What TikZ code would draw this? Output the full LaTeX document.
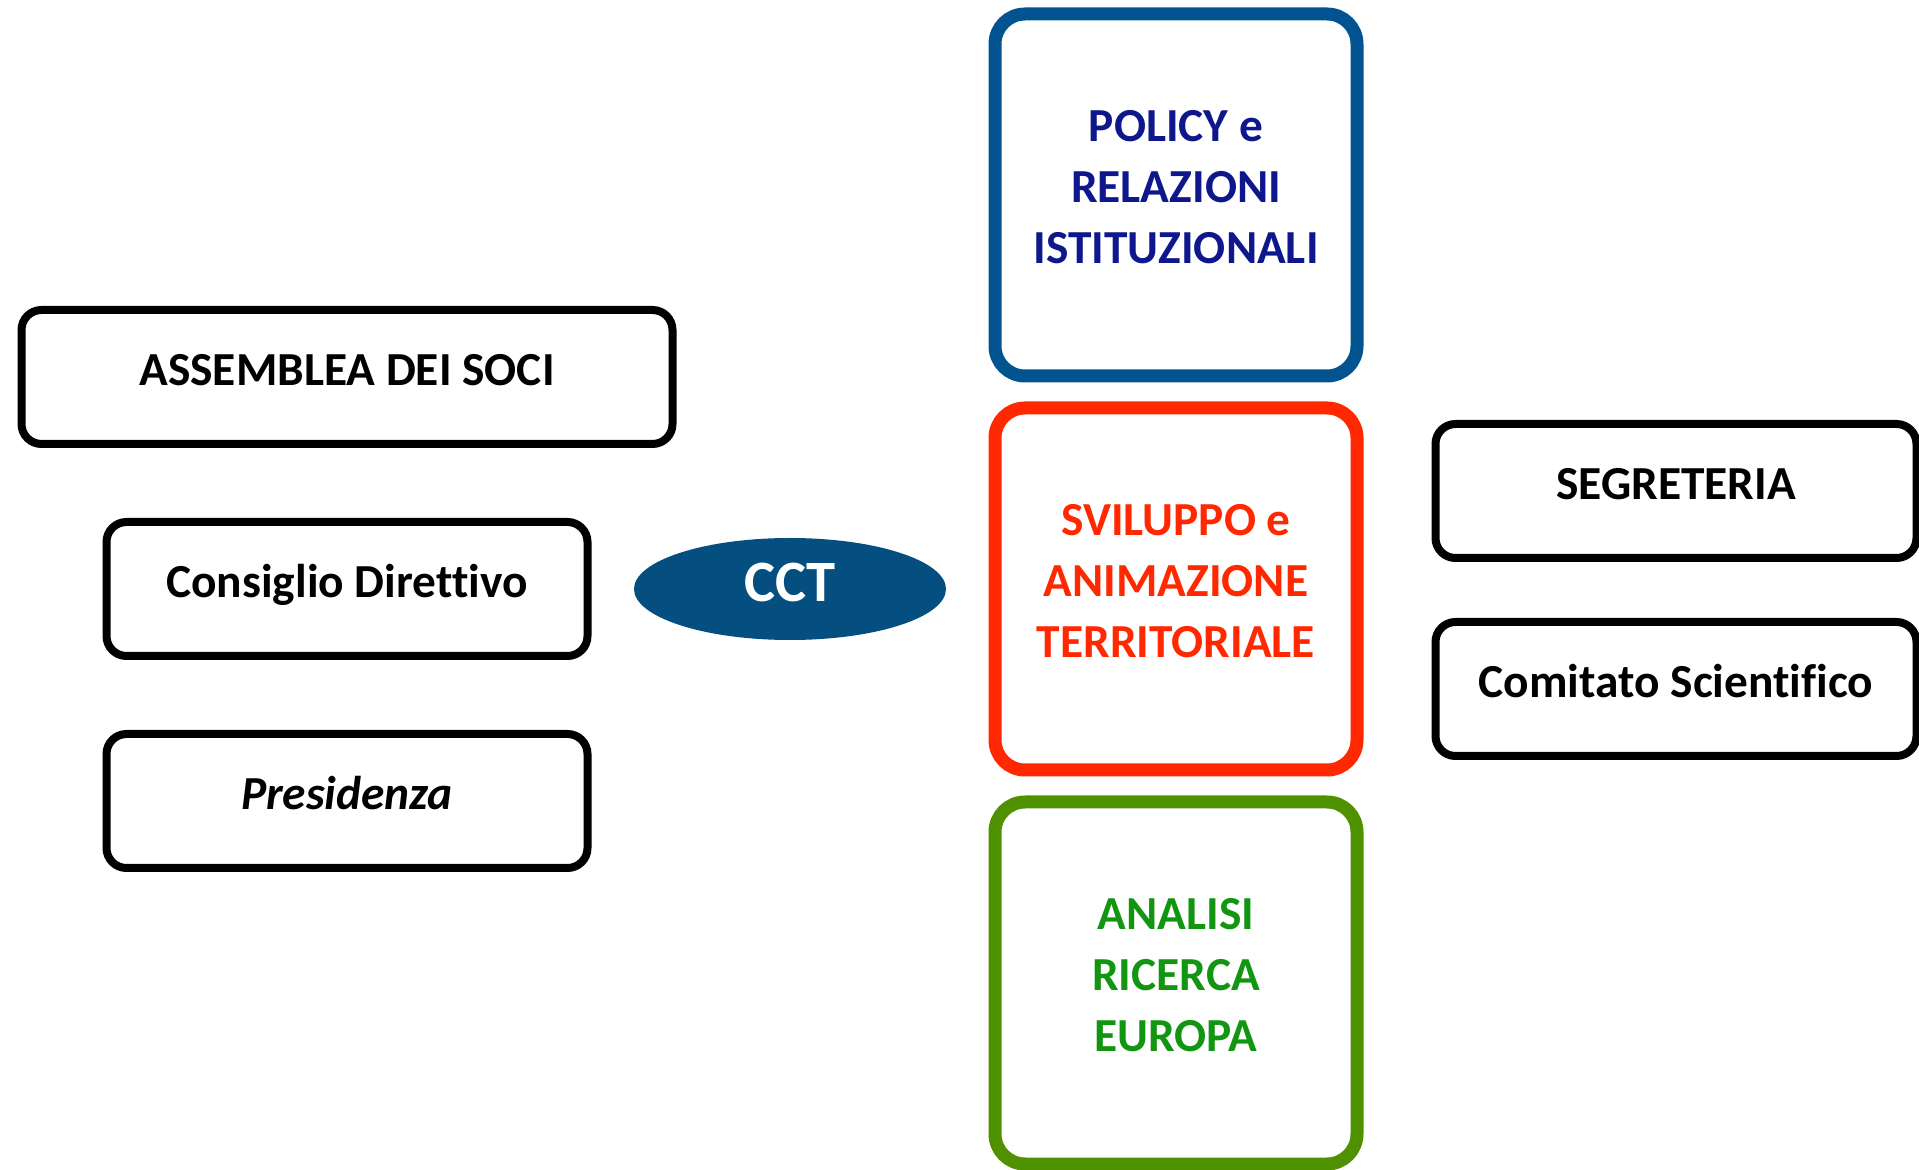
\documentclass[tikz,border=0pt]{standalone}
\usepackage{fontspec}
\setmainfont[Ligatures=CommonOff]{Carlito}
\usetikzlibrary{positioning,shapes.geometric}

\definecolor{policyline}{RGB}{2,84,144}
\definecolor{policytext}{RGB}{14,24,140}
\definecolor{sviluppored}{RGB}{255,40,0}
\definecolor{analisiline}{RGB}{80,145,0}
\definecolor{analisitext}{RGB}{18,150,18}
\definecolor{cctfill}{RGB}{4,78,128}

\tikzset{
  ente/.style={draw=black,line width=4pt,rounded corners=10pt,
    minimum width=240.5pt,minimum height=67pt,inner sep=0pt,
    font=\fontsize{23.7}{30.5}\selectfont\bfseries,
    text height=15pt,text depth=6pt},
  area/.style={draw=#1,line width=6.5pt,rounded corners=15pt,
    minimum width=181pt,minimum height=181pt,inner sep=0pt,align=center,
    font=\fontsize{23.7}{30.5}\selectfont\bfseries,
    text height=75.5pt,text depth=7pt}
}

\begin{document}
\begin{tikzpicture}[x=0.5pt,y=-0.5pt,on grid,node distance=197pt]
  \useasboundingbox (0,0) rectangle (1919,1170);
  \path
  node[area=policyline,text=policytext] (policy) at (1176,195)
    {POLICY e\\RELAZIONI\\ISTITUZIONALI}
  node[area=sviluppored,text=sviluppored,below=of policy] (sviluppo)
    {SVILUPPO e\\ANIMAZIONE\\TERRITORIALE}
  node[area=analisiline,text=analisitext,below=of sviluppo] (analisi)
    {ANALISI\\RICERCA\\EUROPA}

  node[ente,minimum width=325.5pt] (assemblea) at (347,377) {ASSEMBLEA DEI SOCI}
  node[ente,below=106pt of assemblea] (consiglio) {Consiglio Direttivo}
  node[ente,below=106pt of consiglio] (presidenza) {\itshape Presidenza}

  node[ellipse,fill=cctfill,text=white,minimum width=156pt,minimum height=51pt,
    inner sep=0pt,font=\fontsize{29.3}{35}\selectfont\bfseries,
    text height=18.5pt,text depth=6pt,right=221.5pt of consiglio] (cct) {CCT}

  node[ente] (segreteria) at (1676,491) {SEGRETERIA}
  node[ente,below=99pt of segreteria] (comitato) {Comitato Scientifico}
  ;
\end{tikzpicture}
\end{document}
